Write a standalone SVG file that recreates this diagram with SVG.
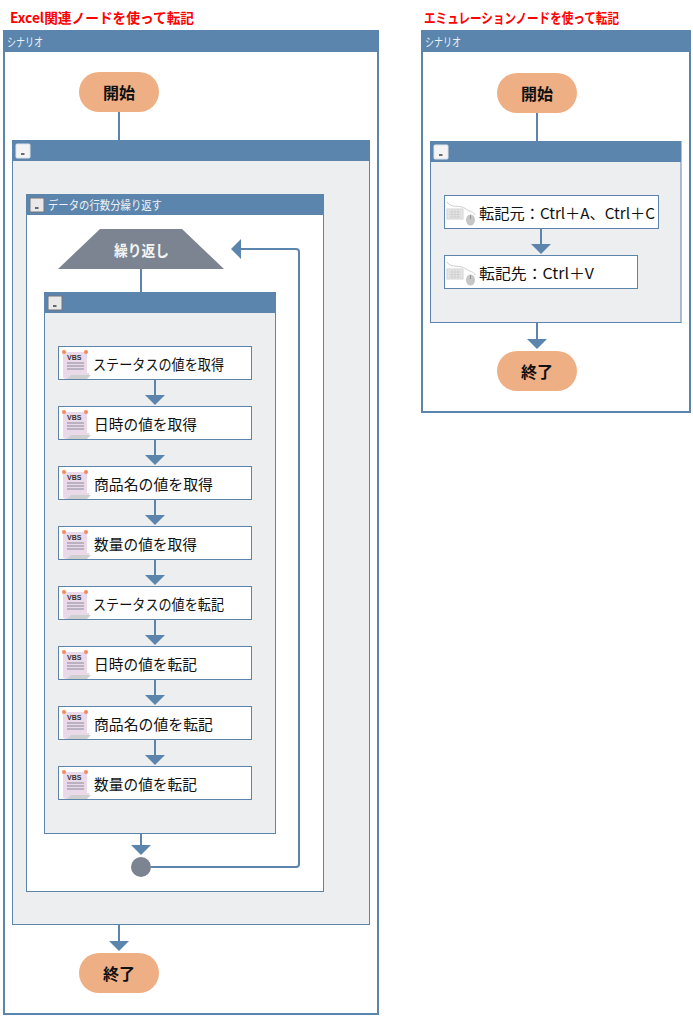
<svg xmlns="http://www.w3.org/2000/svg" xmlns:xlink="http://www.w3.org/1999/xlink" width="693" height="1018" viewBox="0 0 693 1018">
<style>
text{font-family:"Noto Sans CJK JP","Noto Sans",sans-serif}
.title{font-size:14px;font-weight:700;fill:#ff0000}
.hdr{font-size:12px;fill:#eef2f6}
.frame{fill:#fff;stroke:#5b85ad;stroke-width:2}
.group{fill:#edeef0;stroke:#5b85ad;stroke-width:1}
.white{fill:#fff;stroke:#5b85ad;stroke-width:1}
.bar{fill:#5b85ad}
.term{fill:#efaf85}
.termt{font-size:16px;font-weight:700;fill:#111;text-anchor:middle}
.act{fill:#fff;stroke:#5b85ad;stroke-width:1}
.label{font-size:15px;fill:#111}
.btn{fill:#e9e9e9;stroke:#777;stroke-width:1}
.btn2{fill:#f4f4f4;stroke:#dde3ea;stroke-width:1}
.line{fill:none;stroke:#5b85ad;stroke-width:2}
.head{fill:#5b85ad}
</style>
<defs>
<marker id="arrow" markerUnits="userSpaceOnUse" markerWidth="10" markerHeight="20" refX="5" refY="10" orient="auto" viewBox="0 0 10 20"><path d="M0 0L10 10L0 20Z" fill="#5b85ad"/></marker>
<g id="vbs">
<path d="M3 4H27V25L30 25 26 31H5L3 29Z" fill="#e9d9e9"/>
<path d="M7 31L11 27H31L27 31Z" fill="#cfcfcf"/>
<circle cx="4" cy="4" r="2" fill="#f58a5c"/><circle cx="26" cy="4" r="2" fill="#f58a5c"/>
<text x="7" y="12" style="font-family:'Liberation Sans',sans-serif;font-size:7px;font-weight:700;fill:#333">VBS</text>
<path d="M7 15H24M7 18H24M7 21H24" stroke="#8a8a96" stroke-width="1" fill="none"/>
</g>
<g id="kbd">
<path d="M1 5C5 12 14 7 20 12C24 15 27 14 29 18" fill="none" stroke="#cfcfcf" stroke-width="1"/>
<rect x="1" y="12" width="16" height="10" fill="#e6e6e6" stroke="#d4d4d4"/>
<path d="M3 15H15M3 17.5H15M3 20H15M6 13V21M9 13V21M12 13V21" stroke="#c6c6c6" stroke-width=".6"/>
<ellipse cx="24.500" cy="23" rx="4.500" ry="5.500" fill="#c6c6c6"/>
<path d="M24.500 18V22" stroke="#888" stroke-width=".8"/>
</g>
<g id="dash"><rect x="0" y="0" width="14" height="14" rx="1"/><path d="M5 10H8.500" stroke="#111" stroke-width="1.200"/></g>
</defs>

<rect width="693" height="1018" fill="#fff"/>
<g id="title-left"><text class="title" x="10" y="22.500" textLength="184" lengthAdjust="spacingAndGlyphs">Excel関連ノードを使って転記</text></g>
<g id="title-right"><text class="title" x="424" y="22.500" textLength="195" lengthAdjust="spacingAndGlyphs">エミュレーションノードを使って転記</text></g>

<g id="scenario-left">
<rect class="frame" x="4" y="31" width="374" height="983"/>
<rect class="bar" x="3" y="30" width="376" height="22"/>
<text class="hdr" x="7" y="47" textLength="36" lengthAdjust="spacingAndGlyphs">シナリオ</text>
</g>
<g id="group-left">
<rect class="group" x="12.500" y="140.500" width="357" height="784"/>
<rect class="bar" x="12" y="140" width="358" height="21"/>
<use xlink:href="#dash" class="btn2" x="16" y="144"/>
</g>
<g id="loop-frame">
<rect class="white" x="26.500" y="194.500" width="297" height="697"/>
<rect class="bar" x="26" y="194" width="298" height="21"/>
<use xlink:href="#dash" class="btn" x="30" y="198"/>
<text class="hdr" x="48" y="210" textLength="114" lengthAdjust="spacingAndGlyphs">データの行数分繰り返す</text>
</g>
<g id="group-inner">
<rect class="group" x="44.500" y="292.500" width="231" height="541"/>
<rect class="bar" x="44" y="292" width="232" height="21"/>
<use xlink:href="#dash" class="btn" x="48" y="296"/>
</g>
<g id="scenario-right">
<rect class="frame" x="422" y="31" width="268" height="381"/>
<rect class="bar" x="421" y="30" width="270" height="22"/>
<text class="hdr" x="425" y="47" textLength="36" lengthAdjust="spacingAndGlyphs">シナリオ</text>
</g>
<g id="group-right">
<rect class="group" x="430.500" y="141.500" width="250.500" height="181"/>
<rect class="bar" x="430" y="141" width="251" height="21"/>
<use xlink:href="#dash" class="btn2" x="434" y="145"/>
</g>

<g id="connectors">
<path class="line" d="M119 112V140"/>
<path class="line" d="M141 269V292"/>
<path class="line" d="M155 380V400" marker-end="url(#arrow)"/>
<path class="line" d="M155 440V460" marker-end="url(#arrow)"/>
<path class="line" d="M155 500V520" marker-end="url(#arrow)"/>
<path class="line" d="M155 560V580" marker-end="url(#arrow)"/>
<path class="line" d="M155 620V640" marker-end="url(#arrow)"/>
<path class="line" d="M155 680V700" marker-end="url(#arrow)"/>
<path class="line" d="M155 740V760" marker-end="url(#arrow)"/>
<path class="line" d="M141 834V850" marker-end="url(#arrow)"/>
<path class="line" d="M151 867H296Q299 867 299 864V252Q299 249 296 249H236" marker-end="url(#arrow)"/>
<path class="line" d="M119 925V946" marker-end="url(#arrow)"/>
<path class="line" d="M537 112V141"/>
<path class="line" d="M541 229V249" marker-end="url(#arrow)"/>
<path class="line" d="M537 323V344" marker-end="url(#arrow)"/>
</g>

<g id="start-left"><rect class="term" x="79" y="72" width="80" height="40" rx="20"/><text class="termt" x="119" y="99">開始</text></g>
<g id="end-left"><rect class="term" x="79" y="953" width="80" height="40" rx="20"/><text class="termt" x="119" y="980">終了</text></g>
<g id="start-right"><rect class="term" x="497" y="73" width="80" height="40" rx="20"/><text class="termt" x="537" y="100">開始</text></g>
<g id="end-right"><rect class="term" x="497" y="351" width="80" height="40" rx="20"/><text class="termt" x="537" y="378">終了</text></g>

<g id="loop-start"><path d="M100 229H182L224 269H58Z" fill="#7b8490"/><text x="141.500" y="256" text-anchor="middle" textLength="55" lengthAdjust="spacingAndGlyphs" style="font-size:15px;font-weight:700;fill:#f4f4f4">繰り返し</text></g>
<g id="loop-end"><circle cx="141" cy="867" r="10" fill="#7b8490"/></g>

<g id="n1"><rect class="act" x="58.500" y="346.500" width="193" height="33"/><use xlink:href="#vbs" x="60" y="348"/><text class="label" x="93" y="369.500" textLength="131" lengthAdjust="spacingAndGlyphs">ステータスの値を取得</text></g>
<g id="n2"><rect class="act" x="58.500" y="406.500" width="193" height="33"/><use xlink:href="#vbs" x="60" y="408"/><text class="label" x="94" y="429.500" textLength="103" lengthAdjust="spacingAndGlyphs">日時の値を取得</text></g>
<g id="n3"><rect class="act" x="58.500" y="466.500" width="193" height="33"/><use xlink:href="#vbs" x="60" y="468"/><text class="label" x="94" y="489.500" textLength="119" lengthAdjust="spacingAndGlyphs">商品名の値を取得</text></g>
<g id="n4"><rect class="act" x="58.500" y="526.500" width="193" height="33"/><use xlink:href="#vbs" x="60" y="528"/><text class="label" x="94" y="549.500" textLength="103" lengthAdjust="spacingAndGlyphs">数量の値を取得</text></g>
<g id="n5"><rect class="act" x="58.500" y="586.500" width="193" height="33"/><use xlink:href="#vbs" x="60" y="588"/><text class="label" x="93" y="609.500" textLength="131" lengthAdjust="spacingAndGlyphs">ステータスの値を転記</text></g>
<g id="n6"><rect class="act" x="58.500" y="646.500" width="193" height="33"/><use xlink:href="#vbs" x="60" y="648"/><text class="label" x="94" y="669.500" textLength="103" lengthAdjust="spacingAndGlyphs">日時の値を転記</text></g>
<g id="n7"><rect class="act" x="58.500" y="706.500" width="193" height="33"/><use xlink:href="#vbs" x="60" y="708"/><text class="label" x="94" y="729.500" textLength="119" lengthAdjust="spacingAndGlyphs">商品名の値を転記</text></g>
<g id="n8"><rect class="act" x="58.500" y="766.500" width="193" height="33"/><use xlink:href="#vbs" x="60" y="768"/><text class="label" x="94" y="789.500" textLength="103" lengthAdjust="spacingAndGlyphs">数量の値を転記</text></g>

<g id="r1"><rect class="act" x="444.500" y="195.500" width="214" height="33"/><use xlink:href="#kbd" x="446" y="197"/><text class="label" x="479" y="218.500" textLength="176" lengthAdjust="spacingAndGlyphs">転記元：Ctrl＋A、Ctrl＋C</text></g>
<g id="r2"><rect class="act" x="444.500" y="255.500" width="193" height="33"/><use xlink:href="#kbd" x="446" y="257"/><text class="label" x="479" y="278.500" textLength="115" lengthAdjust="spacingAndGlyphs">転記先：Ctrl＋V</text></g>
</svg>
